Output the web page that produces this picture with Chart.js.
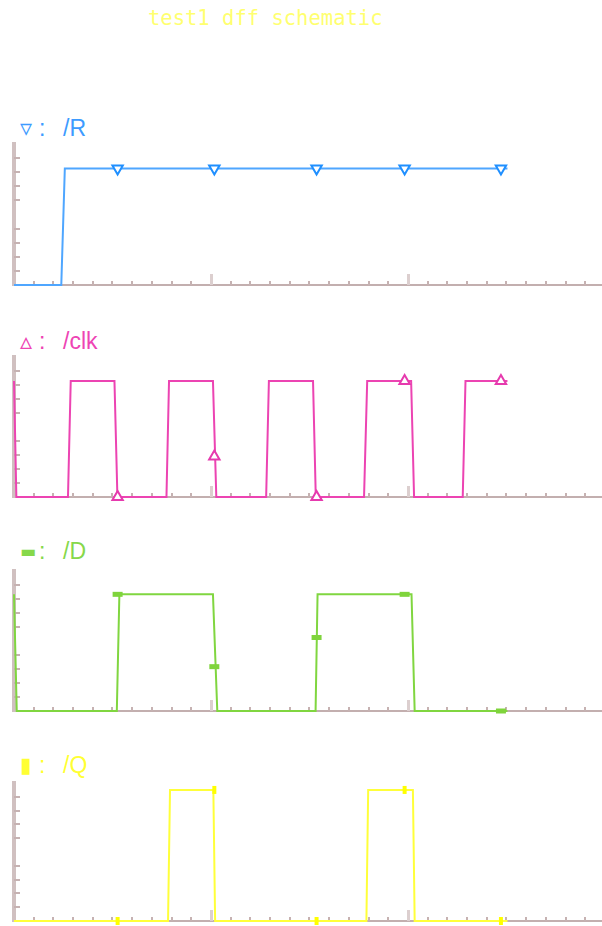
<!DOCTYPE html>
<html>
<head>
<meta charset="utf-8">
<script src="https://cdn.jsdelivr.net/npm/chart.js@4.4.1/dist/chart.umd.min.js"></script>
<style>
  html, body { margin: 0; padding: 0; background: #fff; }
  #page { position: relative; width: 602px; height: 926px; overflow: hidden; background: #fff; }
  #title { position: absolute; left: 148px; top: 6px; font-family: 'DejaVu Sans Mono', monospace; font-size: 20.5px; color: #ffff70; white-space: pre; }
  .label { position: absolute; left: 0; height: 26px; width: 200px; font-family: 'Liberation Sans', Arial, sans-serif; font-size: 23px; line-height: 26px; white-space: pre; }
  .label span { position: absolute; top: 0; }
  .label .glyph { font-family: 'DejaVu Sans', sans-serif; line-height: 26px; }
  canvas { position: absolute; left: 0; }
</style>
</head>
<body>
<div id="page">
  <div id="title">test1 dff schematic</div>
</div>
<script>
// signal names and legend glyphs
const signalNames = ['/R', '/clk', '/D', '/Q'];
const legendGlyphs = ['\u25BF', '\u25B5', '\u25AC', '\u25AE'];

// waveforms: time (same units as the minor ticks) and logic level
const rTime = [0, 2.4, 2.58, 25.05];
const rLevel = [0, 0, 1, 1];

const clkTime = [0, 0.12, 2.74, 2.88, 5.1, 5.25, 7.74, 7.87, 10.1, 10.27, 12.8, 12.94, 15.18, 15.32, 17.77, 17.93, 20.16, 20.31, 22.78, 22.92, 25.05];
const clkLevel = [1, 0, 0, 1, 1, 0, 0, 1, 1, 0, 0, 1, 1, 0, 0, 1, 1, 0, 0, 1, 1];

const dTime = [0, 0.14, 5.22, 5.35, 10.1, 10.32, 15.31, 15.41, 20.18, 20.34, 25.05];
const dLevel = [1, 0, 0, 1, 1, 0, 0, 1, 1, 0, 0];

const qTime = [0, 7.82, 7.92, 10.12, 10.21, 17.89, 17.98, 20.25, 20.34, 25.05];
const qLevel = [0, 0, 1, 1, 0, 0, 1, 1, 0, 0];

// marker symbols placed along each trace
const markerTime = [5.26, 10.17, 15.36, 19.83, 24.72];
const rMarks = [1, 1, 1, 1, 1];
const clkMarks = [0, 0.35, 0, 1, 1];
const dMarks = [1, 0.38, 0.63, 1, 0];
const qMarks = [0, 1, 0, 1, 0];

// axis
const timeMin = 0;
const timeMax = 29.85;
const majorTicks = [10, 20];
const yTickFractions = [0.1, 0.2, 0.3, 0.4, 0.6, 0.7, 0.8, 0.9];

const times = [rTime, clkTime, dTime, qTime];
const levels = [rLevel, clkLevel, dLevel, qLevel];
const marks = [rMarks, clkMarks, dMarks, qMarks];

const lineColors = ['#4fa6ff', '#ec44b2', '#80d640', '#ffff3a'];
const textColors = ['#3d9bff', '#ee44b4', '#86d84a', '#ffff33'];
const glyphSizes = [24, 24, 17, 21];
const markStyles = [
    { pointStyle: 'triangle', rotation: 180, radius: 6, borderWidth: 2, bg: '#ffffff', border: '#1f8fff' },
    { pointStyle: 'triangle', rotation: 0, radius: 6, borderWidth: 2, bg: '#ffffff', border: '#e63aae' },
    { pointStyle: 'line', rotation: 0, radius: 5, borderWidth: 5, bg: '#7fd43c', border: '#7fd43c' },
    { pointStyle: 'line', rotation: 90, radius: 4, borderWidth: 4, bg: '#ffff00', border: '#ffff00' }
];

// layout of the four stacked panels
const panels = [
    { top: 138, height: 153, padBottom: 6, ymax: 1.21, labelY: 128 },
    { top: 351, height: 152, padBottom: 6, ymax: 1.207, labelY: 341 },
    { top: 565, height: 152, padBottom: 6, ymax: 1.2, labelY: 551 },
    { top: 777, height: 149, padBottom: 5, ymax: 1.053, labelY: 765 }
];

const tickPlugin = {
    id: 'waveTicks',
    beforeDatasetsDraw(chart) {
        const { ctx, chartArea, scales } = chart;
        ctx.save();
        for (let t = 1; t < 30; t++) {
            const x = Math.round(scales.x.getPixelForValue(t));
            const major = majorTicks.includes(t);
            const h = major ? 11 : 4;
            ctx.fillStyle = major ? '#dccfcf' : '#c6b2b2';
            ctx.fillRect(x - 1, chartArea.bottom - h, major ? 3 : 2, h);
        }
        ctx.fillStyle = '#c6b2b2';
        yTickFractions.forEach(f => {
            const y = Math.round(scales.y.getPixelForValue(f * scales.y.max));
            ctx.fillRect(chartArea.left, y - 1, 6, 2);
        });
        ctx.restore();
    }
};

function toPoints(xs, ys) {
    return xs.map((x, i) => ({ x: x, y: ys[i] }));
}

const page = document.getElementById('page');

panels.forEach((p, i) => {
    const label = document.createElement('div');
    label.className = 'label';
    label.style.top = (p.labelY - 13) + 'px';
    label.style.color = textColors[i];
    label.innerHTML = '<span class="glyph" style="left:20px;font-size:' + glyphSizes[i] + 'px">' + legendGlyphs[i] + '</span>' +
        '<span style="left:39px">:</span><span style="left:63px">' + signalNames[i] + '</span>';
    page.appendChild(label);

    const canvas = document.createElement('canvas');
    canvas.width = 602;
    canvas.height = p.height;
    canvas.style.top = p.top + 'px';
    page.appendChild(canvas);

    const ms = markStyles[i];
    new Chart(canvas.getContext('2d'), {
        type: 'scatter',
        data: {
            datasets: [{
                data: toPoints(times[i], levels[i]),
                showLine: true,
                borderColor: lineColors[i],
                borderWidth: 2,
                pointRadius: 0,
                clip: false,
                order: 2
            }, {
                data: toPoints(markerTime, marks[i]),
                showLine: false,
                pointStyle: ms.pointStyle,
                pointRotation: ms.rotation,
                pointRadius: ms.radius,
                pointBorderWidth: ms.borderWidth,
                pointBackgroundColor: ms.bg,
                pointBorderColor: ms.border,
                clip: false,
                order: 1
            }]
        },
        options: {
            responsive: false,
            animation: false,
            devicePixelRatio: 1,
            events: [],
            layout: { autoPadding: false, padding: { left: 14, right: 0, top: 6, bottom: p.padBottom } },
            plugins: { legend: { display: false }, tooltip: { enabled: false } },
            scales: {
                x: {
                    type: 'linear', min: timeMin, max: timeMax,
                    ticks: { display: false },
                    grid: { display: false, drawTicks: false },
                    border: { color: '#c3afaf', width: 2 }
                },
                y: {
                    min: 0, max: p.ymax,
                    ticks: { display: false },
                    grid: { display: false, drawTicks: false },
                    border: { color: '#d0c0c0', width: 4 }
                }
            }
        },
        plugins: [tickPlugin]
    });
});
</script>
</body>
</html>
